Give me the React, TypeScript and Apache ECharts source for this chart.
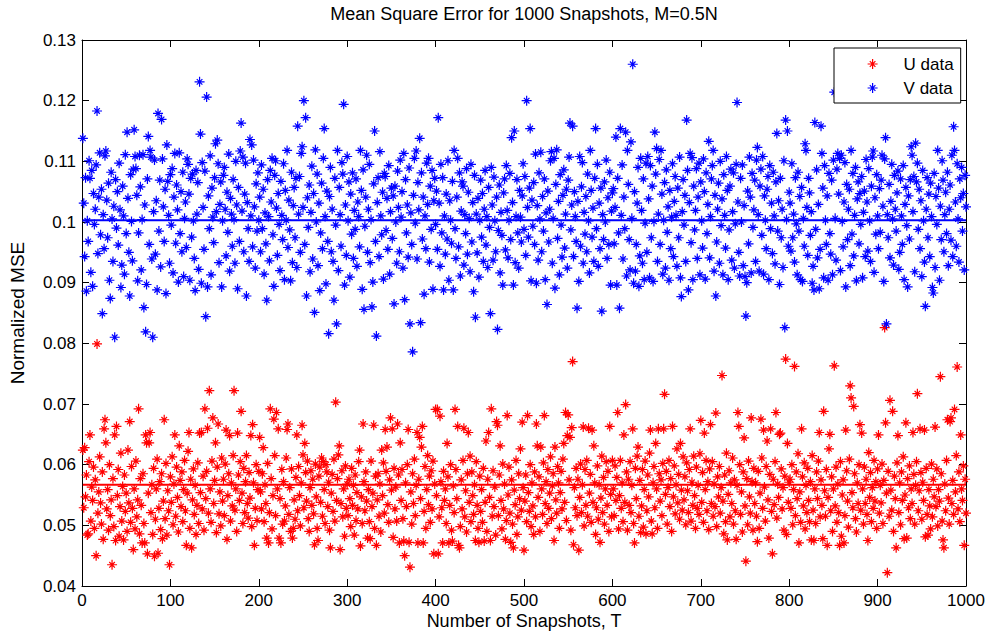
import React, { useEffect, useRef } from "react";
import * as echarts from "echarts";

const TITLE = "Mean Square Error for 1000 Snapshots, M=0.5N";
const X_NAME = "Number of Snapshots, T";
const Y_NAME = "Normalized MSE";
const SERIES_NAMES = ["U data", "V data"];
const X_MIN = 0;
const X_MAX = 1000;
const X_STEP = 100;
const Y_MIN = 0.04;
const Y_MAX = 0.13;
const Y_STEP = 0.01;
const VALUE_SCALE = 10000; // arrays below are MSE x 10^4, snapshot index = position + 1
const U_MEAN = 0.0567;
const V_MEAN = 0.1003;

const V_MSE_E4 = [
  1138, 1031, 943, 1073, 886, 1002, 968, 1101, 1072, 917, 1085, 894, 1047, 996, 1021, 1094, 1183, 948, 1041, 1114,
  979, 1054, 849, 1012, 956, 1109, 1117, 1036, 974, 1064, 904, 874, 1082, 1005, 935, 1026, 810, 1070, 990, 1050,
  962, 1097, 1020, 892, 929, 1059, 1010, 914, 1111, 981, 1148, 1039, 950, 878, 1078, 1001, 936, 1087, 1152, 1108,
  1088, 1044, 903, 982, 1110, 1058, 921, 1004, 1111, 859, 1028, 819, 897, 1071, 1141, 963, 1118, 1107, 939, 810,
  1017, 1102, 947, 1035, 888, 1179, 985, 1069, 926, 1169, 1104, 1025, 968, 1054, 882, 1127, 1067, 1011, 932, 1078,
  995, 1088, 916, 1041, 1113, 965, 1061, 1020, 901, 1114, 981, 1050, 951, 1082, 910, 1006, 1033, 958, 1104, 1095,
  1046, 904, 1072, 975, 1079, 1002, 940, 887, 1085, 1013, 1065, 922, 1231, 1145, 899, 1098, 1024, 955, 1084, 844,
  1206, 893, 1043, 989, 1109, 913, 1056, 1008, 966, 1073, 1129, 1017, 1135, 1096, 933, 1029, 1066, 893, 1002, 1077,
  1090, 1021, 944, 1049, 983, 1112, 919, 1039, 1013, 960, 1070, 1004, 932, 1100, 1028, 890, 1057, 968, 1117, 1163,
  1018, 1107, 951, 1046, 1097, 878, 1032, 989, 935, 1136, 1010, 1127, 959, 1102, 1025, 924, 1063, 985, 1081, 1003,
  1041, 951, 1094, 989, 1054, 914, 1015, 964, 871, 1070, 1009, 936, 1085, 1033, 1105, 979, 894, 1077, 1101, 1023,
  945, 1047, 996, 920, 1067, 1011, 971, 1096, 905, 1052, 1003, 1118, 958, 1036, 987, 903, 1082, 933, 1027, 1057,
  974, 1072, 925, 1158, 1013, 1075, 950, 1113, 1124, 1024, 1200, 963, 1172, 878, 1040, 991, 1061, 918, 1016, 1092,
  939, 1047, 851, 1119, 1000, 1079, 928, 1031, 887, 982, 1064, 956, 1105, 1154, 1009, 898, 1051, 968, 816, 1042,
  1090, 951, 1021, 935, 871, 1072, 995, 832, 1118, 920, 1057, 1012, 960, 1098, 1079, 1194, 896, 1028, 945, 1108,
  1002, 1066, 909, 1046, 980, 1081, 940, 1019, 988, 1071, 927, 1033, 1009, 959, 1118, 1052, 889, 1086, 856, 993,
  1041, 1110, 950, 1021, 1095, 933, 1004, 860, 901, 1063, 1150, 968, 812, 1032, 1073, 943, 1116, 1010, 979, 1049,
  906, 1080, 1075, 986, 1039, 955, 1093, 914, 1017, 1056, 973, 1043, 865, 1059, 1000, 932, 1084, 1024, 951, 1102,
  1008, 1050, 924, 1113, 872, 1070, 982, 1028, 942, 1089, 832, 1015, 963, 786, 1044, 1105, 998, 1117, 939, 1065,
  1020, 1138, 834, 1081, 972, 1041, 881, 1010, 956, 1097, 1029, 1105, 934, 1059, 988, 1085, 889, 1035, 1072, 996,
  1051, 955, 1172, 1031, 927, 1095, 982, 1073, 888, 1010, 947, 1046, 972, 1101, 904, 1035, 1003, 965, 1067, 888,
  1118, 989, 940, 1041, 1105, 959, 1081, 911, 1018, 1066, 1059, 929, 1012, 981, 1088, 947, 1049, 1006, 918, 1095,
  967, 1032, 885, 1077, 843, 1013, 949, 1039, 909, 1003, 1069, 975, 1047, 935, 1021, 1085, 962, 1009, 925, 1057,
  991, 849, 1090, 1028, 937, 1074, 1002, 951, 1041, 823, 986, 1061, 916, 1016, 978, 896, 1048, 1071, 954, 1093,
  1019, 941, 1003, 1080, 971, 1139, 1032, 896, 1150, 933, 1009, 1070, 982, 924, 1052, 1008, 967, 1043, 1096, 988,
  1075, 945, 1200, 1024, 975, 1056, 1154, 903, 1036, 993, 1065, 963, 1112, 899, 1027, 937, 1081, 1005, 1115, 951,
  1042, 985, 1071, 905, 1015, 864, 1051, 967, 1021, 1101, 1116, 932, 1006, 1105, 891, 1062, 1119, 973, 1034, 913,
  1078, 995, 942, 1044, 1086, 957, 1013, 1054, 924, 1069, 1107, 1163, 987, 1028, 1158, 943, 1050, 1009, 968, 858,
  1034, 902, 1108, 960, 1058, 1098, 932, 1016, 980, 1042, 951, 1079, 1002, 916, 1118, 1052, 975, 1023, 935, 1072,
  1154, 989, 1095, 927, 1031, 956, 1056, 853, 1012, 971, 1066, 1000, 1102, 940, 1040, 963, 1082, 896, 1018, 1048,
  1055, 964, 1024, 1140, 896, 1072, 982, 858, 1154, 1011, 1094, 939, 1041, 989, 1148, 911, 1118, 1062, 971, 921,
  1132, 1006, 1260, 899, 1050, 919, 963, 1031, 1090, 894, 944, 1105, 1019, 932, 1071, 905, 998, 1097, 950, 1108,
  1038, 908, 1093, 974, 1059, 902, 1001, 1148, 1079, 1121, 935, 1013, 1103, 963, 1118, 1046, 914, 1003, 1065, 924,
  1086, 983, 1025, 904, 1052, 956, 1008, 1096, 943, 1034, 1075, 1011, 927, 1056, 974, 1107, 908, 877, 1017, 1070,
  995, 1044, 935, 1168, 1085, 888, 1032, 1113, 966, 1106, 905, 1059, 987, 1019, 1088, 940, 1041, 1097, 913, 1066,
  1002, 957, 1104, 1050, 906, 1081, 981, 1029, 1133, 941, 1009, 1071, 1093, 1118, 919, 1044, 878, 967, 1021, 1064,
  932, 1100, 994, 1038, 913, 1078, 1011, 957, 1108, 1052, 905, 987, 1059, 1087, 937, 1017, 1081, 924, 997, 1095,
  1197, 1033, 950, 911, 1072, 1000, 1094, 928, 1027, 910, 845, 900, 1051, 964, 1107, 1041, 916, 1080, 991, 1020,
  1069, 935, 1102, 1123, 1012, 919, 1059, 1087, 978, 1108, 914, 1043, 1003, 956, 1054, 1075, 905, 1093, 989, 1031,
  948, 1082, 1010, 931, 1066, 1146, 985, 1035, 897, 1072, 974, 1021, 925, 1101, 826, 1168, 1004, 1150, 960, 1049,
  1031, 952, 1096, 974, 1013, 934, 1073, 997, 913, 1082, 985, 1042, 905, 1057, 902, 1006, 960, 1129, 1118, 1024,
  945, 1072, 1048, 978, 1017, 899, 927, 888, 1164, 988, 1086, 941, 1029, 890, 955, 1158, 1113, 1056, 908, 1093,
  1003, 963, 1043, 904, 1080, 981, 947, 1069, 913, 1102, 1214, 1006, 937, 1087, 1113, 1046, 1105, 920, 1110, 1001,
  959, 1033, 1098, 893, 1062, 971, 1021, 1054, 928, 1118, 980, 1080, 944, 1011, 1090, 903, 1038, 1066, 964, 1047,
  996, 1075, 908, 1016, 1051, 943, 1103, 1033, 952, 1088, 1002, 935, 1059, 1107, 1117, 917, 1040, 980, 1078, 1010,
  956, 1055, 983, 1069, 1110, 1026, 902, 1104, 1139, 832, 1012, 974, 1062, 941, 1034, 1095, 1005, 929, 1077, 1021,
  985, 1048, 1084, 922, 950, 1071, 1010, 963, 1093, 905, 1029, 1057, 994, 893, 1043, 972, 1070, 1124, 1110, 1017,
  1075, 918, 1130, 1066, 1097, 988, 1054, 956, 1035, 910, 1085, 1002, 934, 861, 1021, 1073, 974, 1046, 943, 1064,
  1009, 892, 883, 1080, 925, 1042, 996, 1118, 1056, 904, 1026, 971, 1101, 1069, 951, 1012, 1049, 981, 1082, 928,
  1021, 1061, 970, 1110, 943, 1157, 1118, 1033, 960, 1096, 1005, 934, 1071, 1040, 1090, 985, 1047, 921, 1077, 1025,
];

const U_MSE_E4 = [
  624, 529, 628, 547, 583, 484, 486, 605, 649, 507, 563, 541, 596, 495, 575, 450, 799, 520, 555, 613,
  537, 502, 588, 477, 659, 674, 636, 527, 559, 492, 600, 516, 542, 435, 577, 498, 649, 475, 663, 549,
  592, 482, 531, 619, 507, 564, 476, 583, 523, 553, 490, 624, 537, 671, 505, 597, 528, 460, 560, 494,
  606, 514, 542, 692, 486, 577, 533, 471, 585, 503, 471, 649, 636, 453, 553, 636, 653, 521, 567, 485,
  594, 449, 510, 560, 609, 454, 528, 572, 493, 585, 478, 540, 674, 511, 602, 484, 557, 524, 435, 580,
  538, 613, 501, 568, 649, 515, 596, 546, 489, 631, 574, 531, 588, 506, 559, 607, 524, 467, 553, 622,
  653, 495, 576, 463, 542, 593, 518, 566, 485, 533, 603, 503, 652, 554, 653, 527, 581, 492, 692, 544,
  589, 660, 520, 722, 560, 505, 606, 677, 536, 574, 636, 488, 596, 667, 519, 555, 499, 611, 540, 576,
  516, 601, 657, 477, 549, 585, 648, 507, 570, 532, 615, 722, 525, 560, 490, 652, 583, 541, 605, 688,
  553, 503, 594, 521, 572, 615, 536, 512, 587, 545, 648, 498, 666, 570, 467, 528, 600, 508, 559, 589,
  645, 555, 527, 585, 628, 506, 567, 536, 479, 602, 471, 521, 692, 577, 494, 549, 675, 615, 516, 686,
  560, 659, 479, 544, 471, 592, 502, 572, 507, 532, 611, 658, 667, 518, 562, 490, 593, 479, 495, 542,
  510, 579, 649, 524, 597, 549, 499, 570, 665, 616, 529, 635, 587, 540, 606, 511, 490, 562, 590, 533,
  576, 519, 468, 601, 547, 495, 475, 581, 596, 538, 611, 515, 605, 559, 503, 600, 588, 531, 571, 492,
  463, 553, 584, 523, 609, 507, 703, 541, 577, 616, 631, 460, 536, 590, 514, 560, 482, 598, 528, 568,
  516, 576, 544, 498, 594, 533, 566, 484, 583, 508, 554, 527, 605, 624, 466, 547, 503, 667, 572, 524,
  588, 540, 479, 559, 506, 478, 606, 531, 553, 665, 495, 581, 467, 542, 585, 515, 568, 489, 624, 549,
  603, 520, 658, 589, 629, 534, 505, 575, 677, 558, 659, 480, 594, 527, 563, 507, 667, 583, 471, 636,
  541, 592, 511, 474, 450, 570, 531, 600, 658, 472, 431, 555, 502, 585, 536, 609, 516, 566, 653, 471,
  576, 645, 544, 629, 663, 471, 523, 597, 495, 559, 615, 534, 581, 505, 590, 527, 606, 453, 568, 691,
  549, 691, 453, 514, 680, 572, 529, 471, 589, 541, 560, 503, 635, 580, 471, 533, 600, 492, 474, 565,
  521, 691, 592, 544, 663, 467, 463, 498, 575, 527, 607, 660, 514, 557, 489, 585, 653, 538, 614, 506,
  588, 549, 518, 567, 475, 605, 533, 495, 472, 581, 523, 559, 505, 594, 474, 538, 639, 490, 576, 653,
  546, 475, 692, 515, 590, 531, 563, 484, 671, 665, 516, 583, 631, 541, 494, 601, 527, 568, 477, 508,
  681, 550, 596, 520, 472, 575, 502, 463, 558, 534, 607, 485, 514, 585, 544, 626, 525, 670, 562, 459,
  540, 583, 506, 681, 554, 523, 600, 498, 570, 532, 485, 588, 514, 667, 631, 546, 580, 490, 629, 560,
  518, 603, 681, 536, 572, 503, 592, 528, 553, 613, 511, 565, 585, 475, 629, 542, 520, 597, 570, 495,
  554, 589, 527, 609, 635, 538, 686, 508, 648, 682, 575, 645, 492, 661, 770, 468, 562, 529, 594, 516,
  576, 459, 546, 601, 521, 567, 662, 499, 592, 533, 607, 515, 660, 553, 584, 505, 657, 538, 631, 570,
  485, 529, 598, 510, 567, 472, 545, 614, 521, 579, 502, 560, 605, 533, 589, 490, 663, 551, 514, 607,
  560, 516, 598, 541, 579, 686, 494, 549, 607, 528, 570, 506, 649, 538, 699, 588, 492, 576, 533, 605,
  521, 566, 659, 503, 471, 594, 544, 614, 629, 515, 574, 488, 532, 592, 497, 559, 606, 486, 524, 583,
  547, 619, 657, 507, 486, 570, 597, 529, 635, 560, 495, 659, 585, 540, 575, 516, 602, 659, 716, 551,
  589, 502, 562, 607, 531, 577, 490, 663, 547, 598, 519, 567, 626, 537, 584, 510, 635, 558, 525, 613,
  542, 580, 501, 603, 557, 521, 592, 659, 507, 571, 533, 614, 549, 495, 596, 528, 566, 518, 618, 673,
  538, 587, 505, 652, 559, 607, 524, 572, 493, 593, 666, 536, 605, 515, 568, 531, 685, 498, 580, 547,
  597, 520, 562, 747, 540, 486, 583, 506, 619, 476, 551, 590, 514, 570, 536, 611, 502, 575, 524, 477,
  566, 686, 663, 600, 518, 555, 489, 588, 644, 532, 441, 577, 501, 606, 547, 520, 677, 572, 492, 594,
  536, 570, 515, 473, 589, 495, 553, 675, 611, 528, 657, 563, 507, 597, 639, 542, 479, 584, 659, 523,
  453, 576, 534, 605, 686, 512, 568, 546, 650, 652, 593, 527, 562, 492, 581, 774, 485, 635, 538, 571,
  576, 528, 600, 501, 559, 762, 516, 588, 544, 618, 471, 555, 505, 659, 580, 532, 603, 494, 566, 521,
  594, 541, 506, 572, 476, 615, 525, 475, 560, 503, 588, 544, 606, 653, 514, 575, 533, 478, 688, 557,
  515, 592, 467, 546, 626, 650, 524, 580, 490, 560, 763, 532, 596, 505, 568, 521, 467, 605, 482, 550,
  575, 471, 516, 657, 590, 540, 497, 609, 730, 710, 554, 529, 696, 585, 511, 489, 570, 536, 600, 666,
  525, 652, 560, 502, 596, 536, 576, 518, 475, 620, 546, 587, 506, 562, 528, 607, 540, 572, 495, 593,
  649, 520, 566, 537, 601, 503, 574, 826, 669, 553, 422, 589, 515, 706, 558, 525, 688, 490, 581, 544,
  463, 603, 648, 521, 570, 501, 588, 541, 613, 478, 550, 669, 479, 577, 529, 598, 511, 560, 536, 653,
  584, 502, 566, 605, 717, 524, 557, 659, 587, 510, 571, 541, 657, 481, 594, 518, 484, 559, 532, 494,
  601, 514, 576, 547, 662, 531, 593, 499, 559, 540, 745, 585, 507, 476, 463, 568, 524, 607, 674, 545,
  502, 671, 677, 536, 574, 518, 691, 555, 615, 761, 527, 588, 506, 649, 560, 541, 598, 467, 576, 520,
];

const FONT = "'Liberation Sans', Arial, Helvetica, sans-serif";
const STAR = "path://M5,0L5,10M0,5L10,5M2.2,2.2L7.8,7.8M2.2,7.8L7.8,2.2";
const RED = "#ff0000";
const BLUE = "#0000ff";

const toPoints = (arr: number[]) => arr.map((v, i) => [i + 1, v / VALUE_SCALE]);

export default function App() {
  const ref = useRef<HTMLDivElement>(null);

  useEffect(() => {
    if (!ref.current) return;
    const chart = echarts.init(ref.current, null, { renderer: "svg" });
    const axisLine = { show: true, onZero: false, lineStyle: { color: "#000", width: 1 } };
    const axisTick = { show: true, inside: true, length: 7, lineStyle: { color: "#000", width: 1 } };
    const labelStyle = { color: "#000", fontSize: 17, fontFamily: FONT };
    const nameStyle = { color: "#000", fontSize: 17, fontFamily: FONT };

    chart.setOption({
      animation: false,
      backgroundColor: "#fff",
      title: {
        text: TITLE,
        left: 524,
        top: 5,
        textAlign: "center",
        padding: 0,
        textStyle: { fontSize: 18, fontWeight: "normal", color: "#000", fontFamily: FONT },
      },
      legend: {
        orient: "vertical",
        left: 834,
        top: 48,
        padding: [7, 7, 6, 33],
        itemGap: 6,
        itemWidth: 10,
        itemHeight: 10,
        borderColor: "#000",
        borderWidth: 1,
        borderRadius: 0,
        backgroundColor: "#fff",
        textStyle: { color: "#000", fontSize: 17, lineHeight: 18, fontFamily: FONT, padding: [0, 0, 0, 21] },
        data: [
          { name: SERIES_NAMES[0], icon: STAR, itemStyle: { color: RED, borderColor: RED, borderWidth: 1.2 } },
          { name: SERIES_NAMES[1], icon: STAR, itemStyle: { color: BLUE, borderColor: BLUE, borderWidth: 1.2 } },
        ],
      },
      grid: { left: 82, top: 40, right: 26, bottom: 47, containLabel: false, outerBoundsMode: "none" },
      xAxis: [
        {
          type: "value",
          min: X_MIN,
          max: X_MAX,
          interval: X_STEP,
          position: "bottom",
          axisLine,
          axisTick,
          axisLabel: { ...labelStyle, margin: 6, formatter: (v: number) => String(v) },
          splitLine: { show: false },
          name: X_NAME,
          nameLocation: "middle",
          nameGap: 26,
          nameMoveOverlap: false,
          nameTextStyle: { ...nameStyle, fontSize: 18 },
        },
        {
          type: "value",
          min: X_MIN,
          max: X_MAX,
          interval: X_STEP,
          position: "top",
          axisLine,
          axisTick,
          axisLabel: { show: false },
          splitLine: { show: false },
        },
      ],
      yAxis: [
        {
          type: "value",
          min: Y_MIN,
          max: Y_MAX,
          interval: Y_STEP,
          position: "left",
          axisLine,
          axisTick,
          axisLabel: { ...labelStyle, margin: 6, formatter: (v: number) => String(+v.toFixed(2)) },
          splitLine: { show: false },
          name: Y_NAME,
          nameLocation: "middle",
          nameGap: 55,
          nameMoveOverlap: false,
          nameRotate: 90,
          nameTextStyle: { ...nameStyle, fontSize: 19 },
        },
        {
          type: "value",
          min: Y_MIN,
          max: Y_MAX,
          interval: Y_STEP,
          position: "right",
          axisLine,
          axisTick,
          axisLabel: { show: false },
          splitLine: { show: false },
        },
      ],
      series: [
        {
          name: SERIES_NAMES[0],
          type: "scatter",
          data: toPoints(U_MSE_E4),
          symbol: STAR,
          symbolSize: 10,
          itemStyle: { color: RED, borderColor: RED, borderWidth: 1.2, opacity: 1 },
          z: 2,
        },
        {
          name: SERIES_NAMES[1],
          type: "scatter",
          data: toPoints(V_MSE_E4),
          symbol: STAR,
          symbolSize: 10,
          itemStyle: { color: BLUE, borderColor: BLUE, borderWidth: 1.2, opacity: 1 },
          z: 2,
        },
        {
          type: "line",
          data: [[1, U_MEAN], [X_MAX, U_MEAN]],
          symbol: "none",
          lineStyle: { color: RED, width: 2 },
          silent: true,
          z: 3,
        },
        {
          type: "line",
          data: [[1, V_MEAN], [X_MAX, V_MEAN]],
          symbol: "none",
          lineStyle: { color: BLUE, width: 2 },
          silent: true,
          z: 3,
        },
      ],
    });
    return () => chart.dispose();
  }, []);

  return (
    <div
      ref={ref}
      style={{ position: "fixed", left: 0, top: 0, width: 992, height: 633, background: "#fff" }}
    />
  );
}
